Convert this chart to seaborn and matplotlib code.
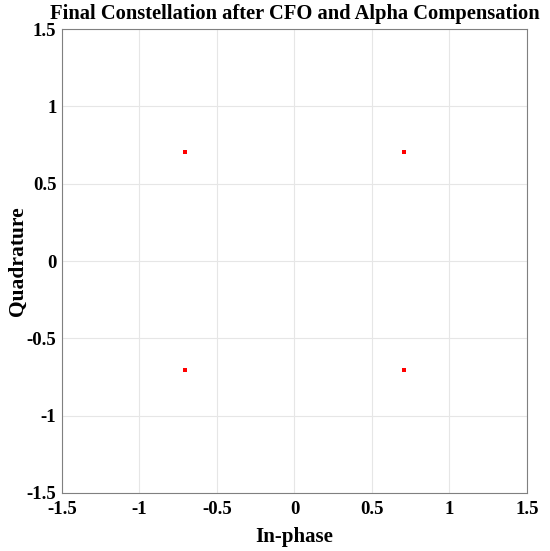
import numpy as np
import pandas as pd
import matplotlib
matplotlib.use("Agg")
import matplotlib.pyplot as plt
import seaborn as sns

# Titik konstelasi QPSK setelah kompensasi
in_phase = [0.7071, -0.7071, -0.7071, 0.7071]
quadrature = [0.7071, 0.7071, -0.7071, -0.7071]
tick_vals = [-1.5, -1, -0.5, 0, 0.5, 1, 1.5]
tick_labels = ["-1.5", "-1", "-0.5", "0", "0.5", "1", "1.5"]

data = pd.DataFrame({"I": in_phase, "Q": quadrature})

sns.set_style("white")
plt.rcParams['font.family'] = ['Liberation Serif', 'DejaVu Serif']
plt.rcParams['font.weight'] = 'bold'
plt.rcParams['text.color'] = 'black'
plt.rcParams['axes.labelcolor'] = 'black'
plt.rcParams['xtick.color'] = 'black'
plt.rcParams['ytick.color'] = 'black'

fig = plt.figure(figsize=(5.5, 5.51), dpi=100)
ax = fig.add_axes([0.1127, 0.1053, 0.958 - 0.1127, 0.947 - 0.1053])

sns.scatterplot(data=data, x="I", y="Q", ax=ax, color="red", marker="s",
                s=7, linewidth=0, zorder=3)

ax.set_xlim(-1.5, 1.5)
ax.set_ylim(-1.5, 1.5)
ax.set_xticks(tick_vals)
ax.set_xticklabels(tick_labels, fontsize=13.5, fontweight='bold')
ax.set_yticks(tick_vals)
ax.set_yticklabels(tick_labels, fontsize=13.5, fontweight='bold')
ax.grid(True, color="#e6e6e6", linewidth=0.8)
ax.tick_params(direction="in", length=4, width=0.6, color="#404040",
               labelcolor="black", top=False, right=False)
ax.tick_params(axis="x", pad=6)
ax.tick_params(axis="y", pad=4)
for sp in ax.spines.values():
    sp.set_color("#808080")
    sp.set_linewidth(0.8)

ax.set_xlabel("In-phase", fontsize=15, fontweight='bold', labelpad=6,
              color="black")
ax.set_ylabel("Quadrature", fontsize=15.5, fontweight='bold', labelpad=-1,
              color="black")
ax.set_title("Final Constellation after CFO and Alpha Compensation",
             fontsize=14.8, fontweight='bold', pad=7, color="black")

fig.savefig("out.png", dpi=100)
